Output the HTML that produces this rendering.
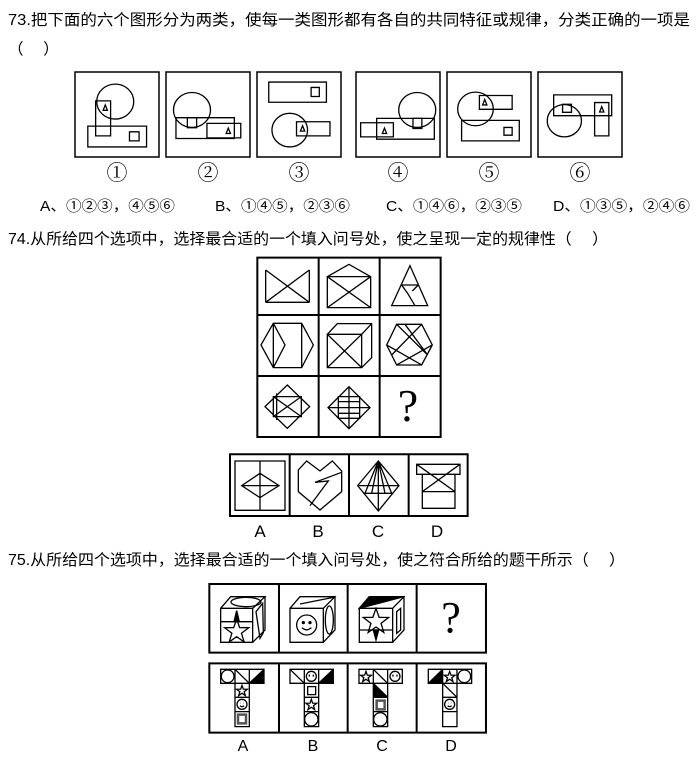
<!DOCTYPE html>
<html><head><meta charset="utf-8"><style>
html,body{margin:0;padding:0;background:#fff;width:697px;height:758px;overflow:hidden}
svg{display:block}
text{font-family:"Liberation Sans","Noto Sans CJK SC",sans-serif;fill:#000}
.q{font-family:"Liberation Serif",serif}
.c{font-family:"Noto Serif CJK SC","Noto Sans CJK SC",serif}
.s *{vector-effect:non-scaling-stroke}
</style></head><body>
<svg width="697" height="758" viewBox="0 0 697 758" xmlns="http://www.w3.org/2000/svg">
<text x="8" y="25" font-size="15.5" textLength="682" lengthAdjust="spacingAndGlyphs">73.把下面的六个图形分为两类，使每一类图形都有各自的共同特征或规律，分类正确的一项是</text>
<text x="8" y="54" font-size="15.5">（　 ）</text>

<g fill="none" stroke="#000" stroke-width="1.5">
<rect x="75" y="72" width="84" height="85"/><rect x="166" y="72" width="84" height="85"/><rect x="257" y="72" width="84" height="85"/>
<rect x="356" y="72" width="84" height="85"/><rect x="447" y="72" width="84" height="85"/><rect x="538" y="72" width="84" height="85"/>
</g>
<g class="s" fill="none" stroke="#000" stroke-width="1.3">
<g transform="translate(75,72) scale(0.356,0.336) translate(-12,-22)">
<circle cx="125" cy="110" r="52"/><rect x="70" y="108" width="42" height="104"/><rect x="48" y="183" width="165" height="62"/><rect x="165" y="200" width="27" height="27"/><polygon points="97,120 91,136 103,136"/></g>
<g transform="translate(166,72) scale(0.356,0.336) translate(-270,-22)">
<circle cx="343" cy="135" r="52"/><rect x="298" y="158" width="164" height="62"/><rect x="330" y="158" width="26" height="30"/><rect x="385" y="175" width="95" height="43"/><polygon points="445,189 439,205 451,205"/></g>
<g transform="translate(257,72) scale(0.356,0.336) translate(-525,-22)">
<rect x="558" y="52" width="162" height="60"/><rect x="677" y="68" width="23" height="27"/><circle cx="617" cy="195" r="50"/><rect x="636" y="170" width="94" height="42"/><polygon points="653,182 647,198 659,198"/></g>
<g transform="translate(356,72) scale(0.356,0.336) translate(-800,-22)">
<circle cx="972" cy="135" r="52"/><rect x="858" y="160" width="162" height="62"/><rect x="813" y="173" width="92" height="42"/><polygon points="880,189 874,205 886,205"/><rect x="960" y="160" width="25" height="30"/></g>
<g transform="translate(447,72) scale(0.356,0.336) translate(-1057,-22)">
<circle cx="1137" cy="132" r="50"/><rect x="1148" y="92" width="92" height="41"/><polygon points="1163,104 1157,120 1169,120"/><rect x="1098" y="166" width="162" height="61"/><rect x="1217" y="187" width="23" height="23"/></g>
<g transform="translate(538,72) scale(0.356,0.336) translate(-1311,-22)">
<rect x="1355" y="90" width="163" height="62"/><rect x="1380" y="118" width="25" height="24"/><circle cx="1385" cy="167" r="48"/><rect x="1470" y="113" width="40" height="99"/><polygon points="1490,125 1484,141 1496,141"/></g>
</g>
<g font-size="21" text-anchor="middle">
<text class="c" x="117" y="180">①</text><text class="c" x="208" y="180">②</text><text class="c" x="299" y="180">③</text><text class="c" x="398" y="180">④</text><text class="c" x="489" y="180">⑤</text><text class="c" x="580" y="180">⑥</text>
</g>
<g font-size="14.5">
<text x="40" y="211" textLength="135" lengthAdjust="spacingAndGlyphs">A、①②③，④⑤⑥</text>
<text x="215" y="211" textLength="135" lengthAdjust="spacingAndGlyphs">B、①④⑤，②③⑥</text>
<text x="386" y="211" textLength="136" lengthAdjust="spacingAndGlyphs">C、①④⑥，②③⑤</text>
<text x="553" y="211" textLength="137" lengthAdjust="spacingAndGlyphs">D、①③⑤，②④⑥</text>
</g>
<text x="8" y="244" font-size="15.5" textLength="600" lengthAdjust="spacingAndGlyphs">74.从所给四个选项中，选择最合适的一个填入问号处，使之呈现一定的规律性（　 ）</text>

<g class="s" transform="translate(225,225) scale(0.3333)" fill="none" stroke="#000" stroke-width="1.3">
<rect x="97" y="98" width="550" height="538" stroke-width="2"/>
<line x1="281" y1="98" x2="281" y2="636" stroke-width="2"/><line x1="464" y1="98" x2="464" y2="636" stroke-width="2"/>
<line x1="97" y1="270" x2="647" y2="270" stroke-width="2"/><line x1="97" y1="453" x2="647" y2="453" stroke-width="2"/>
<path d="M122,135V232M253,135V232M122,135L253,232M122,232L253,135M122,232H253"/>
<path d="M307,155H437V248H307ZM307,155L437,248M307,248L437,155M307,155L372,118L437,155"/>
<path d="M555,122L500,242H608ZM530,180H580M530,180L548,205L570,242M580,180L562,198"/>
<path d="M108,360L145,295H230L265,360L230,428H145ZM145,295V428L180,360ZM230,295V428"/>
<path d="M307,328H410V428H307ZM307,328L337,296H440V398L410,428M410,328L440,296M307,328L410,428M307,428L410,328"/>
<path d="M485,360L515,298H590L622,360L590,420H515ZM515,298L608,390M590,298L500,390M540,298L608,390M485,360L590,420M515,420L622,360"/>
<path d="M187,480L254,545L187,610L120,545ZM145,515H229V575H145ZM155,505V585M145,515L229,575M145,575L229,515"/>
<path d="M372,485L435,548L372,611L309,548ZM340,515H404V580H340ZM309,548H435M372,485V611M340,530H404M340,565H404"/>
<rect x="15" y="688" width="713" height="185" stroke-width="2"/>
<line x1="194" y1="688" x2="194" y2="873" stroke-width="2"/><line x1="372" y1="688" x2="372" y2="873" stroke-width="2"/><line x1="551" y1="688" x2="551" y2="873" stroke-width="2"/>
<path d="M30,708H180V856H30ZM105,708V856M50,782L105,745L162,782L105,818ZM50,782H162"/>
<path d="M220,735L245,708L285,738L322,708L350,738V800L285,855L220,800ZM350,742L270,772L310,768L255,842"/>
<path d="M398,782L460,708L522,782L460,858ZM460,708L420,805M460,708L440,805M460,708L480,805M460,708L500,805M398,782H522M418,805H502M460,708V858"/>
<path d="M575,718H705V748H575ZM592,748H690V850H592ZM575,718L690,800M705,718L592,800M592,800H690"/>
</g>
<text class="q" x="408" y="421" font-size="46" text-anchor="middle">?</text>
<g font-size="17" text-anchor="middle">
<text x="260" y="537">A</text><text x="318" y="537">B</text><text x="378" y="537">C</text><text x="437" y="537">D</text>
</g>

<text x="8" y="565" font-size="15.5" textLength="617" lengthAdjust="spacingAndGlyphs">75.从所给四个选项中，选择最合适的一个填入问号处，使之符合所给的题干所示（　 ）</text>

<g class="s" transform="translate(200,580) scale(0.3333)" fill="none" stroke="#000" stroke-width="1.3">
<rect x="28" y="12" width="830" height="206" stroke-width="2"/>
<line x1="237" y1="12" x2="237" y2="218" stroke-width="2"/><line x1="443" y1="12" x2="443" y2="218" stroke-width="2"/><line x1="650" y1="12" x2="650" y2="218" stroke-width="2"/>
<rect x="28" y="250" width="830" height="208" stroke-width="2"/>
<line x1="237" y1="250" x2="237" y2="458" stroke-width="2"/><line x1="443" y1="250" x2="443" y2="458" stroke-width="2"/><line x1="650" y1="250" x2="650" y2="458" stroke-width="2"/>
<path d="M62,85H158V187H62ZM62,85L92,50H195L158,85M158,187L195,150V50M62,125H158M168,95L180,175L190,158L188,70Z"/>
<ellipse cx="138" cy="66" rx="45" ry="14"/>
<polygon points="110,92 102,125 118,125" fill="#000"/>
<polygon points="110,117 118.9,142.7 146.1,143.3 124.4,159.7 132.3,185.7 110,170.2 87.7,185.7 95.6,159.7 73.9,143.3 101.1,142.7"/>
<path d="M270,85H370V187H270ZM270,85L300,50H405L370,85M370,187L405,150V50M300,72L400,52"/>
<ellipse cx="388" cy="120" rx="12" ry="42"/>
<circle cx="320" cy="135" r="30"/><circle cx="310" cy="128" r="3" fill="#000"/><circle cx="330" cy="128" r="3" fill="#000"/><path d="M306,143Q320,156 334,143"/>
<path d="M478,85H578V187H478ZM478,85L508,50H612L578,85M578,187L612,150V50M478,150H578M590,95L602,85V150L590,160Z"/>
<polygon points="478,85 508,50 612,50" fill="#000"/>
<polygon points="520,150 536,150 528,180" fill="#000"/>
<polygon points="528,85 537.4,112 566,112.6 543.2,130 551.5,157.4 528,141 504.5,157.4 512.8,130 490,112.6 518.6,112"/>
<path d="M62,268H192V310H62ZM105,268V310M148,268V310M105,310H148V440H105ZM105,352H148M105,395H148"/>
<circle cx="83" cy="289" r="19"/><line x1="105" y1="268" x2="148" y2="310"/><polygon points="150,308 190,270 190,308" fill="#000"/>
<polygon points="126,316 130,327.5 142.2,327.7 132.5,335.1 136,346.8 126,339.8 116,346.8 119.5,335.1 109.8,327.7 122,327.5"/>
<circle cx="126" cy="373" r="15"/><path d="M120,377Q126,383 132,377M121,369h1M131,369h1"/>
<rect x="114" y="404" width="24" height="26" stroke-width="2.5" stroke="#555"/>
<path d="M270,268H400V310H270ZM313,268V310M356,268V310M313,310H356V440H313ZM313,352H356M313,395H356"/>
<line x1="270" y1="268" x2="313" y2="310"/><circle cx="334" cy="289" r="15"/><path d="M328,284v6M340,284v6"/><polygon points="358,308 398,270 398,308" fill="#000"/>
<rect x="323" y="320" width="24" height="24"/>
<polygon points="334,358 338,369.5 350.2,369.7 340.5,377.1 344,388.8 334,381.8 324,388.8 327.5,377.1 317.8,369.7 330,369.5"/>
<circle cx="334" cy="418" r="20"/>
<path d="M477,268H607V310H477ZM520,268V310M563,268V310M520,310H563V440H520ZM520,352H563M520,395H563"/>
<polygon points="498,274 502,285.5 514.2,285.7 504.5,293.1 508,304.8 498,297.8 488,304.8 491.5,293.1 481.8,285.7 494,285.5"/>
<line x1="520" y1="268" x2="563" y2="310"/><circle cx="585" cy="289" r="15"/><path d="M579,284v6M591,284v6"/>
<polygon points="522,312 561,350 522,350" fill="#000"/>
<rect x="530" y="362" width="24" height="26" stroke-width="2.5" stroke="#555"/><circle cx="541" cy="418" r="20"/>
<path d="M685,268H815V310H685ZM728,268V310M771,268V310M728,310H771V440H728ZM728,352H771M728,395H771"/>
<polygon points="687,308 726,270 726,308" fill="#000"/>
<polygon points="749,274 753,285.5 765.2,285.7 755.5,293.1 759,304.8 749,297.8 739,304.8 742.5,293.1 732.8,285.7 745,285.5"/>
<circle cx="793" cy="289" r="19"/>
<line x1="728" y1="310" x2="771" y2="352"/>
<circle cx="749" cy="373" r="15"/><path d="M743,377Q749,383 755,377M744,369h1M754,369h1"/>
</g>
<text class="q" x="451" y="632" font-size="44" text-anchor="middle">?</text>
<g font-size="16" text-anchor="middle">
<text x="243" y="751">A</text><text x="313" y="751">B</text><text x="382" y="751">C</text><text x="451" y="751">D</text>
</g>
</svg>
</body></html>
